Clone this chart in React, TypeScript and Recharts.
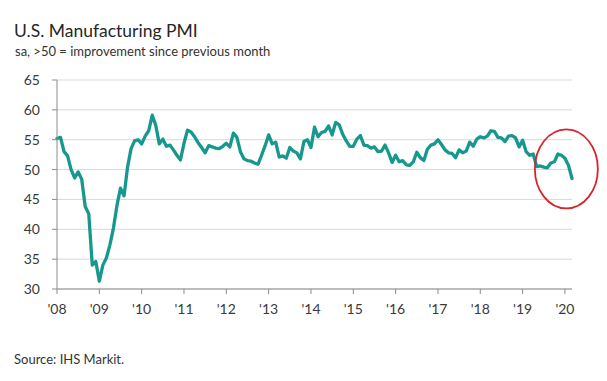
import { LineChart, Line, XAxis, YAxis, CartesianGrid, ReferenceDot } from 'recharts';

// monthly readings, Jan 2008 – Mar 2020
const pmi2008 = [55.2, 55.4, 53.0, 52.3, 50.0, 48.6, 49.6, 48.4, 43.8, 42.6, 34.0, 34.6];
const pmi2009 = [31.3, 34.0, 35.2, 37.4, 40.2, 44.0, 46.9, 45.6, 50.4, 53.5, 54.8, 55.0];
const pmi2010 = [54.3, 55.6, 56.5, 59.1, 57.4, 54.3, 55.1, 53.9, 54.1, 53.3, 52.4, 51.6];
const pmi2011 = [54.4, 56.6, 56.3, 55.5, 54.5, 53.7, 52.8, 54.0, 53.8, 53.6, 53.5, 53.9];
const pmi2012 = [54.4, 53.8, 56.1, 55.4, 53.0, 51.8, 51.5, 51.4, 51.1, 50.9, 52.4, 54.0];
const pmi2013 = [55.8, 54.3, 54.6, 52.1, 52.3, 51.9, 53.7, 53.1, 52.8, 51.8, 54.7, 55.0];
const pmi2014 = [53.7, 57.1, 55.5, 56.2, 56.4, 57.3, 55.8, 57.9, 57.5, 55.9, 54.8, 53.9];
const pmi2015 = [53.9, 55.1, 55.7, 54.1, 54.0, 53.6, 53.8, 53.0, 53.1, 54.1, 52.8, 51.2];
const pmi2016 = [52.4, 51.3, 51.5, 50.8, 50.7, 51.3, 52.9, 52.0, 51.5, 53.4, 54.1, 54.3];
const pmi2017 = [55.0, 54.2, 53.3, 52.8, 52.7, 52.0, 53.3, 52.8, 53.1, 54.6, 53.9, 55.1];
const pmi2018 = [55.5, 55.3, 55.6, 56.5, 56.4, 55.4, 55.3, 54.7, 55.6, 55.7, 55.3, 53.8];
const pmi2019 = [54.9, 53.0, 52.4, 52.6, 50.5, 50.6, 50.4, 50.3, 51.1, 51.3, 52.6, 52.4];
const pmi2020 = [51.9, 50.7, 48.5];

const yearLabels = ["'08", "'09", "'10", "'11", "'12", "'13", "'14", "'15", "'16", "'17", "'18", "'19", "'20"];
const yTicks = [30, 35, 40, 45, 50, 55, 60, 65];

// highlighted stretch at the end (circled in red)
const highlight = { m: 144.4, v: 50.1 };

const series = [
  ...pmi2008, ...pmi2009, ...pmi2010, ...pmi2011, ...pmi2012, ...pmi2013, ...pmi2014,
  ...pmi2015, ...pmi2016, ...pmi2017, ...pmi2018, ...pmi2019, ...pmi2020,
];
const data = series.map((v, m) => ({ m, v }));
const xTicks = yearLabels.map((_, i) => i * 12);

const font = 'Lato, "Open Sans", sans-serif';
const tickStyle = { fontSize: 14, fill: '#3a3a3a', fontFamily: font };

function Ellipse(props: any) {
  const { cx, cy } = props;
  return <ellipse cx={cx} cy={cy} rx={31.5} ry={39.5} fill="none" stroke="#d9232d" strokeWidth={1.8} />;
}

export default function App() {
  return (
    <div style={{ position: 'absolute', left: 0, top: 0, width: 607, height: 381, background: '#fff', fontFamily: font }}>
      <div style={{ position: 'absolute', left: 14, top: 21.5, fontSize: 17.5, lineHeight: '17.5px', color: '#262626', whiteSpace: 'nowrap' }}>
        U.S. Manufacturing PMI
      </div>
      <div style={{ position: 'absolute', left: 15, top: 45, fontSize: 13, lineHeight: '13px', color: '#333', whiteSpace: 'nowrap' }}>
        sa, &gt;50 = improvement since previous month
      </div>
      <LineChart width={607} height={381} data={data} margin={{ top: 80, right: 35, left: 17, bottom: 62 }}>
        <CartesianGrid vertical={false} stroke="#d9d9d9" strokeWidth={1} />
        <XAxis
          dataKey="m"
          type="number"
          domain={[0, 146]}
          ticks={xTicks}
          tickFormatter={(v: number) => yearLabels[Math.round(v / 12)]}
          height={30}
          tick={tickStyle}
          tickSize={5}
          tickMargin={10}
          stroke="#8c8c8c"
          interval={0}
        />
        <YAxis
          domain={[30, 65]}
          ticks={yTicks}
          width={40}
          tick={tickStyle}
          tickSize={5}
          tickMargin={12}
          stroke="#8c8c8c"
          interval={0}
        />
        <Line
          type="linear"
          dataKey="v"
          stroke="#16988f"
          strokeWidth={3.3}
          strokeLinejoin="round"
          strokeLinecap="round"
          dot={false}
          isAnimationActive={false}
        />
        <ReferenceDot x={highlight.m} y={highlight.v} shape={Ellipse} ifOverflow="visible" />
      </LineChart>
      <div style={{ position: 'absolute', left: 14, top: 353, fontSize: 13, lineHeight: '13px', color: '#333', whiteSpace: 'nowrap' }}>
        Source: IHS Markit.
      </div>
    </div>
  );
}
